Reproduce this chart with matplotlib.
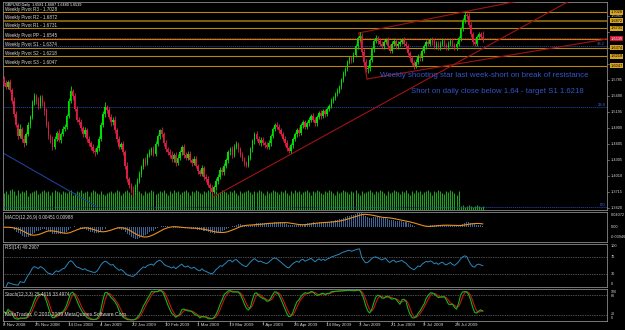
import matplotlib
matplotlib.use("Agg")
import matplotlib.pyplot as plt
import matplotlib.transforms as mtransforms
import numpy as np
import pandas as pd

plt.rcParams['font.family'] = ['Liberation Sans', 'DejaVu Sans']

# ---------------- data ----------------
symbol_title = "GBPUSD,Daily  1.6581 1.6687 1.6480 1.6539"
first_open = 1.580
closes = [
    1.572, 1.566, 1.575, 1.560, 1.540, 1.515, 1.495, 1.475, 1.488, 1.470,
    1.462, 1.478, 1.495, 1.510, 1.535, 1.548, 1.540, 1.530, 1.545, 1.535,
    1.520, 1.495, 1.475, 1.468, 1.455, 1.470, 1.480, 1.468, 1.478, 1.488,
    1.492, 1.512, 1.540, 1.558, 1.548, 1.525, 1.505, 1.500, 1.490, 1.478,
    1.485, 1.470, 1.462, 1.455, 1.448, 1.445, 1.452, 1.470, 1.495, 1.515,
    1.528, 1.522, 1.510, 1.500, 1.505, 1.485, 1.470, 1.455, 1.460, 1.445,
    1.420, 1.395, 1.385, 1.375, 1.372, 1.380, 1.392, 1.405, 1.418, 1.430,
    1.425, 1.440, 1.445, 1.450, 1.442, 1.460, 1.475, 1.485, 1.478, 1.462,
    1.450, 1.445, 1.440, 1.432, 1.440, 1.425, 1.435, 1.445, 1.455, 1.440,
    1.435, 1.442, 1.430, 1.425, 1.432, 1.420, 1.410, 1.405, 1.415, 1.400,
    1.395, 1.385, 1.378, 1.372, 1.380, 1.392, 1.400, 1.412, 1.408, 1.420,
    1.430, 1.445, 1.450, 1.440, 1.455, 1.460, 1.450, 1.440, 1.432, 1.425,
    1.422, 1.435, 1.450, 1.465, 1.478, 1.470, 1.462, 1.468, 1.462, 1.458,
    1.455, 1.462, 1.475, 1.488, 1.495, 1.492, 1.485, 1.478, 1.470, 1.462,
    1.452, 1.448, 1.458, 1.470, 1.478, 1.485, 1.480, 1.495, 1.500, 1.492,
    1.498, 1.505, 1.512, 1.505, 1.498, 1.510, 1.518, 1.512, 1.520, 1.515,
    1.525, 1.530, 1.540, 1.545, 1.552, 1.558, 1.565, 1.578, 1.590, 1.598,
    1.612, 1.618, 1.615, 1.625, 1.640, 1.655, 1.660, 1.630, 1.612, 1.598,
    1.600, 1.615, 1.635, 1.650, 1.655, 1.650, 1.645, 1.640, 1.648, 1.652,
    1.640, 1.632, 1.645, 1.650, 1.640, 1.645, 1.648, 1.652, 1.645, 1.640,
    1.628, 1.618, 1.610, 1.604, 1.612, 1.622, 1.618, 1.632, 1.640, 1.648,
    1.645, 1.652, 1.648, 1.640, 1.645, 1.638, 1.645, 1.650, 1.642, 1.638,
    1.645, 1.650, 1.642, 1.638, 1.645, 1.655, 1.672, 1.688, 1.698, 1.696,
    1.680, 1.662, 1.648, 1.645, 1.658, 1.662, 1.6581, 1.6539]
wick_hi = [
    45, 60, 35, 50, 40, 70, 55, 40, 80, 35, 60, 45, 50, 40, 55, 65, 40, 70, 45, 50,
    40, 55, 65, 35, 60, 50, 45, 70, 40, 55, 50, 35, 45, 90, 40, 60, 50, 45, 55, 40,
    65, 40, 50, 35, 55, 45, 60, 40, 50, 55, 95, 45, 60, 50, 40, 65, 45, 55, 40, 50,
    45, 60, 50, 40, 70, 55, 45, 60, 40, 50, 65, 40, 55, 45, 60, 50, 40, 30, 60, 45,
    50, 40, 55, 65, 40, 50, 60, 45, 40, 55, 50, 45, 60, 40, 55, 50, 40, 45, 60, 50,
    45, 55, 40, 60, 50, 45, 40, 55, 50, 45, 40, 35, 50, 60, 45, 55, 40, 50, 45, 40,
    45, 50, 40, 35, 45, 55, 40, 50, 45, 40, 50, 45, 40, 35, 40, 55, 45, 50, 40, 45,
    50, 40, 45, 35, 50, 40, 55, 35, 45, 50, 40, 45, 35, 50, 45, 40, 35, 50, 40, 45,
    40, 35, 45, 40, 35, 50, 40, 35, 45, 40, 35, 50, 45, 40, 35, 45, 60, 55, 45, 40,
    50, 40, 35, 40, 55, 45, 50, 40, 45, 40, 55, 45, 40, 50, 45, 40, 45, 35, 50, 40,
    45, 40, 50, 45, 40, 45, 50, 35, 40, 45, 50, 40, 45, 50, 40, 45, 40, 50, 45, 40,
    45, 40, 50, 45, 40, 35, 40, 45, 55, 40, 50, 45, 40, 50, 35, 45, 50, 106]
wick_lo = [
    50, 40, 55, 45, 60, 50, 45, 65, 40, 55, 70, 45, 40, 55, 45, 40, 60, 50, 45, 55,
    60, 45, 50, 65, 55, 40, 50, 45, 60, 40, 45, 50, 40, 45, 60, 50, 45, 55, 60, 50,
    45, 55, 50, 60, 45, 70, 40, 50, 45, 40, 50, 55, 45, 60, 50, 45, 55, 50, 45, 60,
    55, 50, 60, 45, 70, 50, 45, 40, 55, 45, 50, 45, 40, 55, 50, 45, 40, 50, 45, 55,
    45, 50, 60, 45, 55, 50, 40, 45, 50, 55, 45, 50, 40, 55, 45, 50, 60, 45, 40, 55,
    50, 45, 55, 65, 40, 45, 50, 40, 55, 45, 40, 50, 45, 55, 40, 45, 50, 45, 40, 55,
    50, 40, 45, 40, 50, 45, 40, 50, 45, 55, 45, 40, 50, 45, 40, 45, 50, 40, 45, 50,
    55, 50, 40, 45, 40, 50, 45, 40, 50, 45, 45, 40, 50, 45, 55, 40, 45, 50, 40, 45,
    40, 45, 40, 45, 40, 35, 45, 40, 35, 45, 40, 45, 50, 40, 45, 40, 45, 50, 55, 60,
    65, 45, 40, 45, 40, 50, 45, 40, 55, 45, 40, 50, 45, 40, 50, 45, 40, 45, 50, 45,
    45, 50, 40, 55, 45, 40, 50, 45, 40, 45, 40, 45, 50, 45, 55, 40, 45, 50, 40, 45,
    45, 50, 40, 45, 50, 40, 45, 40, 45, 50, 45, 50, 55, 45, 40, 45, 50, 59]
volumes = [
    16, 18, 15, 19, 20, 18, 14, 19, 16, 18, 17, 19, 13, 16, 17, 18, 19, 15, 16, 18,
    19, 17, 18, 14, 17, 19, 18, 17, 15, 18, 17, 16, 18, 19, 14, 16, 18, 17, 19, 16,
    17, 18, 13, 17, 19, 18, 16, 15, 18, 15, 14, 16, 17, 18, 16, 17, 19, 18, 14, 16,
    18, 19, 17, 15, 18, 17, 19, 18, 16, 14, 18, 16, 17, 19, 18, 15, 16, 18, 17, 19,
    16, 14, 18, 16, 19, 17, 18, 15, 17, 18, 19, 17, 14, 18, 17, 19, 18, 16, 15, 18,
    17, 19, 18, 16, 14, 18, 16, 17, 19, 18, 17, 15, 18, 17, 19, 16, 14, 18, 16, 17,
    18, 19, 17, 15, 18, 17, 19, 18, 16, 14, 18, 16, 17, 19, 18, 17, 15, 18, 17, 19,
    16, 14, 18, 16, 19, 17, 18, 15, 17, 18, 19, 17, 14, 18, 17, 19, 18, 16, 15, 18,
    17, 19, 18, 16, 14, 18, 16, 17, 19, 18, 17, 15, 18, 17, 19, 16, 14, 18, 16, 17,
    18, 19, 17, 15, 18, 17, 19, 18, 16, 14, 18, 16, 17, 19, 18, 17, 15, 18, 17, 19,
    16, 14, 18, 16, 19, 17, 18, 15, 17, 18, 19, 17, 14, 18, 17, 19, 18, 16, 15, 18,
    17, 19, 18, 16, 14, 18, 4, 5, 3, 4, 5, 4, 3, 4, 5, 4, 3, 4]
date_labels = ['6 Nov 2008', '25 Nov 2008', '14 Dec 2008', '4 Jan 2009', '22 Jan 2009',
               '10 Feb 2009', '1 Mar 2009', '19 Mar 2009', '7 Apr 2009', '26 Apr 2009',
               '14 May 2009', '3 Jun 2009', '21 Jun 2009', '9 Jul 2009', '28 Jul 2009']
bars_per_label = 16
pivot_names = ['R3', 'R2', 'R1', 'PP', 'S1', 'S2', 'S3']
pivot_values = [1.7028, 1.6872, 1.6731, 1.6545, 1.6374, 1.6218, 1.6047]
price_ticks = [1.6965, 1.5785, 1.5490, 1.5195, 1.4900,
               1.4605, 1.4305, 1.4010, 1.3715, 1.3420]
hidden_ticks = [1.6670, 1.6375, 1.6080]
bid_price = 1.6539
fib_low, fib_high = 1.3444, 2.1194
fib_levels = [0.0, 23.6, 38.2]
fib_diag_bars = [-0.5, 46.0]
fib_diag_prices = [1.4434, 1.3444]
# trend lines: anchor bars / prices (rays continue to the right edge)
trend_bar1 = [103.5, 179.7, 175.7, 175.7]
trend_p1 = [1.3623, 1.5799, 1.6647, 1.6647]
trend_bar2 = [222.3, 298.5, 257.0, 179.7]
trend_p2 = [1.6057, 1.6536, 1.7255, 1.5799]
trend_ray = [True, True, True, False]
note1 = "Weekly shooting star last week-short on break of resistance"
note2 = "Short on daily close below 1.64 - target S1 1.6218"
macd_label = "MACD(12,26,9) 0.00451 0.00988"
macd_scale = [0.04072, -0.03946]
rsi_label = "RSI(14) 49.2907"
stoch_label = "Stoch(12,3,3) 25.4616 33.4974"
copyright_text = "MetaTrader, \u00a9 2001-2009 MetaQuotes Software Corp."

# ---------------- styles ----------------
BG = '#000000'
FRAME = '#8a8a8a'
BULL = '#00e000'
BEAR = '#dc1e46'
VOLC = '#1fa01f'
GOLD = '#b8860b'
FIBC = '#233c96'
TRC = '#a01414'
NOTEC = '#3553c8'
TXT = '#d8d8d8'
FS = 3.3

W, H = 625.0, 330.0
fig = plt.figure(figsize=(6.25, 3.3), dpi=100, facecolor=BG)


def px_axes(x0, y0, x1, y1):
    a = fig.add_axes([x0 / W, 1 - y1 / H, (x1 - x0) / W, (y1 - y0) / H])
    a.set_facecolor(BG)
    for s in a.spines.values():
        s.set_color(FRAME)
        s.set_linewidth(0.6)
    a.set_xticks([])
    a.set_yticks([])
    return a


XL = (-0.5, 298.5)
n = len(closes)
idx = np.arange(n)
c = np.array(closes)
o = np.concatenate([[first_open], c[:-1]])
hi = np.maximum(o, c) + np.array(wick_hi) * 1e-4
lo = np.minimum(o, c) - np.array(wick_lo) * 1e-4
up = c >= o
cols = np.where(up, BULL, BEAR)

# ---------------- main chart ----------------
ax = px_axes(3, 2, 607, 210)
ax.set_xlim(*XL)
ax.set_ylim(1.3383, 1.7218)
ytr = mtransforms.blended_transform_factory(ax.transAxes, ax.transData)

# volumes
vmax = max(volumes)
ax.vlines(idx, 0, np.array(volumes) / vmax * 0.10, transform=ax.get_xaxis_transform(),
          colors=VOLC, lw=0.8, zorder=1)

# fib levels
for lvl in fib_levels:
    p = fib_low + (fib_high - fib_low) * lvl / 100.0
    ax.axhline(p, color=FIBC, lw=0.7, ls=(0, (1.2, 0.8)), zorder=2)
    ax.text(0.997, p, f"{lvl:.1f}", transform=ytr, ha='right', va='bottom',
            fontsize=3.0, color='#4a6ad8', zorder=6)
ax.plot(fib_diag_bars, fib_diag_prices, color=FIBC, lw=0.8, zorder=2)

# pivots
for name, v in zip(pivot_names, pivot_values):
    ax.axhline(v, color=GOLD, lw=1.4 if name == 'R2' else 0.8,
               alpha=0.7 if name == 'R2' else 1.0, zorder=2)
    ax.text(0.003, v + 0.0012, f"Weekly Pivot {name} - {v:.4f}", transform=ytr,
            ha='left', va='bottom', fontsize=FS, color=TXT, zorder=7)
ax.axhline(bid_price + 0.0012, color='#d02020', lw=0.6, ls=(0, (1, 1)), zorder=2)

# trend lines
for b1, p1, b2, p2, ray in zip(trend_bar1, trend_p1, trend_bar2, trend_p2, trend_ray):
    if ray:
        slope = (p2 - p1) / (b2 - b1)
        xe = XL[1]
        ax.plot([b1, xe], [p1, p1 + slope * (xe - b1)], color=TRC, lw=0.8, zorder=3)
    else:
        ax.plot([b1, b2], [p1, p2], color=TRC, lw=0.8, zorder=3)

# candles
ax.vlines(idx, lo, hi, colors=cols, lw=0.6, zorder=4)
ax.bar(idx, np.maximum(np.abs(c - o), 0.0008), bottom=np.minimum(o, c), width=0.75,
       color=cols, lw=0, zorder=5)

# notes
ax.text(186.0, 1.5854, note1, fontsize=5.65, color=NOTEC, va='center', ha='left', zorder=8)
ax.text(201.5, 1.5577, note2, fontsize=5.6, color=NOTEC, va='center', ha='left', zorder=8)

ax.text(0.003, 0.997, symbol_title, transform=ax.transAxes, ha='left', va='top',
        fontsize=2.7, color='white', zorder=9)

# right price scale
for t in price_ticks + hidden_ticks:
    ax.plot([1.0, 1.004], [t, t], transform=ytr, color=FRAME, lw=0.5, clip_on=False)
for t in price_ticks:
    ax.text(1.006, t, f"{t:.4f}", transform=ytr, ha='left', va='center', fontsize=2.8,
            color=TXT, clip_on=False)
for name, v in zip(pivot_names, pivot_values):
    ax.text(1.006, v, f"{v:.4f}", transform=ytr, ha='left', va='center', fontsize=2.8,
            color='black', clip_on=False,
            bbox=dict(boxstyle='square,pad=0.15', fc='#d9a520', ec='none'))
ax.text(1.006, bid_price, f"{bid_price:.4f}", transform=ytr, ha='left', va='center',
        fontsize=2.8, color='white', clip_on=False,
        bbox=dict(boxstyle='square,pad=0.15', fc='#d01030', ec='none'))

# ---------------- indicators ----------------
cs = pd.Series(c)
ema12 = cs.ewm(span=12, adjust=False).mean()
ema26 = cs.ewm(span=26, adjust=False).mean()
macd = ema12 - ema26
signal = macd.rolling(9, min_periods=1).mean()

delta = cs.diff()
gain = delta.clip(lower=0).ewm(alpha=1 / 14, adjust=False).mean()
loss = (-delta.clip(upper=0)).ewm(alpha=1 / 14, adjust=False).mean()
rsi = 100 - 100 / (1 + gain / loss)

hs, ls_ = pd.Series(hi), pd.Series(lo)
ll = ls_.rolling(12, min_periods=1).min()
hh = hs.rolling(12, min_periods=1).max()
kk = 100 * (cs - ll).rolling(3, min_periods=1).sum() / (hh - ll).rolling(3, min_periods=1).sum()
dd = kk.rolling(3, min_periods=1).mean()

# MACD
axm = px_axes(3, 212, 607, 242)
axm.set_xlim(*XL)
axm.set_ylim(macd_scale[1], macd_scale[0])
axm.bar(idx, macd, width=0.5, color='#3f6396', lw=0)
axm.plot(idx, signal, color='#e8901e', lw=0.8)
axm.text(0.003, 0.8, macd_label, transform=axm.transAxes, fontsize=FS, color=TXT, va='center')
mtr = mtransforms.blended_transform_factory(axm.transAxes, axm.transData)
axm.text(1.006, 0.9, f"{macd_scale[0]:.5f}", transform=axm.transAxes, fontsize=2.8,
         color=TXT, va='center', clip_on=False)
axm.text(1.006, 0.0, "0.00", transform=mtr, fontsize=2.8, color=TXT, va='center', clip_on=False)
axm.text(1.006, 0.15, f"{macd_scale[1]:.5f}", transform=axm.transAxes, fontsize=2.8,
         color=TXT, va='center', clip_on=False)

# RSI
axr = px_axes(3, 244, 607, 287)
axr.set_xlim(*XL)
axr.set_ylim(0, 100)
for lv in (70, 30):
    axr.axhline(lv, color='#9a9a9a', lw=0.5, ls=(0, (1, 1.5)))
axr.plot(idx, rsi, color='#2a88bf', lw=0.7)
axr.text(0.003, 0.93, rsi_label, transform=axr.transAxes, fontsize=FS, color=TXT, va='center')
rtr = mtransforms.blended_transform_factory(axr.transAxes, axr.transData)
for lv, yy in ((100, 95), (70, 70), (30, 30), (0, 6)):
    axr.text(1.006, yy, str(lv), transform=rtr, fontsize=2.8, color=TXT, va='center', clip_on=False)

# Stochastic
axs = px_axes(3, 289, 607, 321)
axs.set_xlim(*XL)
axs.set_ylim(0, 100)
for lv in (80, 20):
    axs.axhline(lv, color='#9a9a9a', lw=0.5, ls=(0, (1, 1.5)))
axs.plot(idx, dd, color='#c81414', lw=0.8)
axs.plot(idx, kk, color='#18b418', lw=0.8)
axs.text(0.003, 0.84, stoch_label, transform=axs.transAxes, fontsize=FS, color=TXT, va='center')
axs.text(0.003, 0.22, copyright_text, transform=axs.transAxes, fontsize=3.6, color=TXT, va='center')
st = mtransforms.blended_transform_factory(axs.transAxes, axs.transData)
for lv, yy in ((100, 90), (80, 78), (20, 22), (0, 8)):
    axs.text(1.006, yy, str(lv), transform=st, fontsize=2.6, color=TXT, va='center', clip_on=False)

# date axis
dtr = mtransforms.blended_transform_factory(axs.transData, axs.transAxes)
for k, lab in enumerate(date_labels):
    b = k * bars_per_label
    axs.plot([b, b], [0, -0.08], transform=dtr, color=FRAME, lw=0.5, clip_on=False)
    axs.text(b - 0.5, -0.05, lab, transform=dtr, fontsize=3.2, color=TXT, ha='left',
             va='top', clip_on=False)

fig.savefig('out.png', dpi=100, facecolor=BG)
